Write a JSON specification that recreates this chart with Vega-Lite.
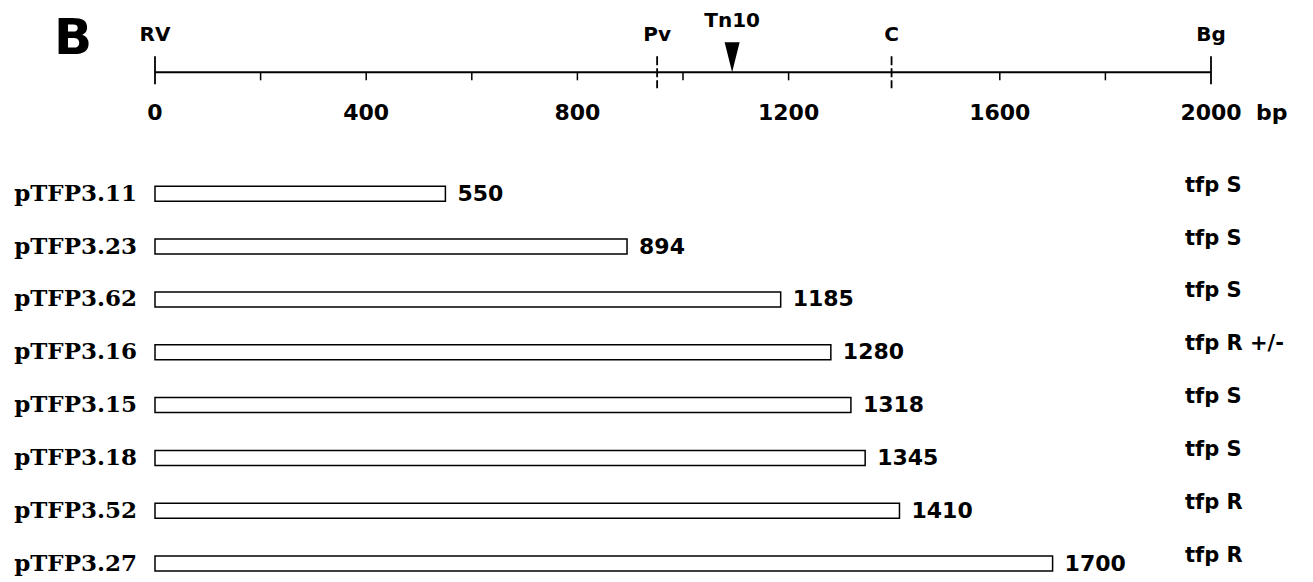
{
  "$schema": "https://vega.github.io/schema/vega-lite/v6.json",
  "width": 1056,
  "height": 581,
  "autosize": {"type": "none"},
  "padding": {"left": 155, "top": 1, "right": 102, "bottom": 0},
  "background": "white",
  "config": {"view": {"stroke": null}},
  "datasets": {
    "constructs": [
      {"name": "pTFP3.11", "start": 0, "length": 550, "row": 1, "phenotype": "tfp S"},
      {"name": "pTFP3.23", "start": 0, "length": 894, "row": 2, "phenotype": "tfp S"},
      {"name": "pTFP3.62", "start": 0, "length": 1185, "row": 3, "phenotype": "tfp S"},
      {"name": "pTFP3.16", "start": 0, "length": 1280, "row": 4, "phenotype": "tfp R +/-"},
      {"name": "pTFP3.15", "start": 0, "length": 1318, "row": 5, "phenotype": "tfp S"},
      {"name": "pTFP3.18", "start": 0, "length": 1345, "row": 6, "phenotype": "tfp S"},
      {"name": "pTFP3.52", "start": 0, "length": 1410, "row": 7, "phenotype": "tfp R"},
      {"name": "pTFP3.27", "start": 0, "length": 1700, "row": 8, "phenotype": "tfp R"}
    ],
    "ends": [
      {"site": "RV", "pos": 0},
      {"site": "Bg", "pos": 2000}
    ],
    "cuts": [
      {"site": "Pv", "pos": 951},
      {"site": "C", "pos": 1395}
    ],
    "insertion": [{"site": "Tn10", "pos": 1093}],
    "minorTicks": [
      {"pos": 200}, {"pos": 400}, {"pos": 600}, {"pos": 800},
      {"pos": 1000}, {"pos": 1200}, {"pos": 1600}, {"pos": 1800}
    ],
    "scaleLabels": [
      {"pos": 0, "label": "0"},
      {"pos": 400, "label": "400"},
      {"pos": 800, "label": "800"},
      {"pos": 1200, "label": "1200"},
      {"pos": 1600, "label": "1600"},
      {"pos": 2000, "label": "2000"}
    ],
    "unit": [{"pos": 2000, "label": "bp"}],
    "panel": [{"pos": 0, "label": "B"}],
    "ruler": [{"start": 0, "end": 2000}]
  },
  "layer": [
    {
      "data": {"name": "ruler"},
      "mark": {"type": "rule", "stroke": "black", "strokeWidth": 2},
      "encoding": {
        "x": {"field": "start", "type": "quantitative", "scale": {"domain": [0, 2000], "nice": false, "zero": false, "padding": 0}, "axis": null},
        "x2": {"field": "end"},
        "y": {"datum": -1.3, "type": "quantitative", "scale": {"domain": [-2.65, 8.35], "reverse": true, "nice": false, "zero": false, "padding": 0}, "axis": null}
      }
    },
    {
      "data": {"name": "minorTicks"},
      "mark": {"type": "tick", "orient": "vertical", "color": "black", "opacity": 1, "size": 8, "thickness": 1.5, "yOffset": 4},
      "encoding": {
        "x": {"field": "pos", "type": "quantitative"},
        "y": {"datum": -1.3, "type": "quantitative"}
      }
    },
    {
      "data": {"name": "ends"},
      "mark": {"type": "tick", "orient": "vertical", "color": "black", "opacity": 1, "size": 28, "thickness": 1.8, "yOffset": -2},
      "encoding": {
        "x": {"field": "pos", "type": "quantitative"},
        "y": {"datum": -1.3, "type": "quantitative"}
      }
    },
    {
      "data": {"name": "cuts"},
      "mark": {"type": "point", "shape": "M0,-1L0,1", "size": 1024, "filled": false, "stroke": "black", "strokeWidth": 1.8, "strokeDash": [9, 3], "opacity": 1},
      "encoding": {
        "x": {"field": "pos", "type": "quantitative"},
        "y": {"datum": -1.3, "type": "quantitative"}
      }
    },
    {
      "data": {"name": "insertion"},
      "mark": {"type": "point", "shape": "M-0.5,-1L0.5,-1L0,1Z", "size": 900, "filled": true, "fill": "black", "opacity": 1, "yOffset": -15},
      "encoding": {
        "x": {"field": "pos", "type": "quantitative"},
        "y": {"datum": -1.3, "type": "quantitative"}
      }
    },
    {
      "data": {"name": "insertion"},
      "mark": {"type": "text", "font": "DejaVu Sans", "fontWeight": "bold", "fontSize": 20, "align": "center", "baseline": "alphabetic", "dy": -45, "color": "black"},
      "encoding": {
        "x": {"field": "pos", "type": "quantitative"},
        "y": {"datum": -1.3, "type": "quantitative"},
        "text": {"field": "site"}
      }
    },
    {
      "data": {"name": "ends"},
      "mark": {"type": "text", "font": "DejaVu Sans", "fontWeight": "bold", "fontSize": 20, "align": "center", "baseline": "alphabetic", "dy": -31, "color": "black"},
      "encoding": {
        "x": {"field": "pos", "type": "quantitative"},
        "y": {"datum": -1.3, "type": "quantitative"},
        "text": {"field": "site"}
      }
    },
    {
      "data": {"name": "cuts"},
      "mark": {"type": "text", "font": "DejaVu Sans", "fontWeight": "bold", "fontSize": 20, "align": "center", "baseline": "alphabetic", "dy": -31, "color": "black"},
      "encoding": {
        "x": {"field": "pos", "type": "quantitative"},
        "y": {"datum": -1.3, "type": "quantitative"},
        "text": {"field": "site"}
      }
    },
    {
      "data": {"name": "scaleLabels"},
      "mark": {"type": "text", "font": "DejaVu Sans", "fontWeight": "bold", "fontSize": 22, "align": "center", "baseline": "alphabetic", "dy": 48, "color": "black"},
      "encoding": {
        "x": {"field": "pos", "type": "quantitative"},
        "y": {"datum": -1.3, "type": "quantitative"},
        "text": {"field": "label"}
      }
    },
    {
      "data": {"name": "unit"},
      "mark": {"type": "text", "font": "DejaVu Sans", "fontWeight": "bold", "fontSize": 22, "align": "left", "baseline": "alphabetic", "dx": 45, "dy": 48, "color": "black"},
      "encoding": {
        "x": {"field": "pos", "type": "quantitative"},
        "y": {"datum": -1.3, "type": "quantitative"},
        "text": {"field": "label"}
      }
    },
    {
      "data": {"name": "panel"},
      "mark": {"type": "text", "font": "DejaVu Sans", "fontWeight": "bold", "fontSize": 50, "align": "center", "baseline": "alphabetic", "dx": -82, "dy": -18, "color": "black"},
      "encoding": {
        "x": {"field": "pos", "type": "quantitative"},
        "y": {"datum": -1.3, "type": "quantitative"},
        "text": {"field": "label"}
      }
    },
    {
      "data": {"name": "constructs"},
      "mark": {"type": "bar", "orient": "horizontal", "size": 15, "fill": "white", "stroke": "black", "strokeWidth": 1.5},
      "encoding": {
        "x": {"field": "start", "type": "quantitative"},
        "x2": {"field": "length"},
        "y": {"field": "row", "type": "quantitative"}
      }
    },
    {
      "data": {"name": "constructs"},
      "mark": {"type": "text", "font": "DejaVu Serif", "fontWeight": "bold", "fontSize": 23, "align": "right", "baseline": "middle", "dx": -18, "color": "black"},
      "encoding": {
        "x": {"field": "start", "type": "quantitative"},
        "y": {"field": "row", "type": "quantitative"},
        "text": {"field": "name"}
      }
    },
    {
      "data": {"name": "constructs"},
      "mark": {"type": "text", "font": "DejaVu Sans", "fontWeight": "bold", "fontSize": 22, "align": "left", "baseline": "middle", "dx": 12, "color": "black"},
      "encoding": {
        "x": {"field": "length", "type": "quantitative"},
        "y": {"field": "row", "type": "quantitative"},
        "text": {"field": "length", "type": "quantitative"}
      }
    },
    {
      "data": {"name": "constructs"},
      "mark": {"type": "text", "font": "DejaVu Sans", "fontWeight": "bold", "fontSize": 21, "align": "left", "baseline": "middle", "dx": -26, "dy": -8, "color": "black"},
      "encoding": {
        "x": {"datum": 2000, "type": "quantitative"},
        "y": {"field": "row", "type": "quantitative"},
        "text": {"field": "phenotype"}
      }
    }
  ]
}
